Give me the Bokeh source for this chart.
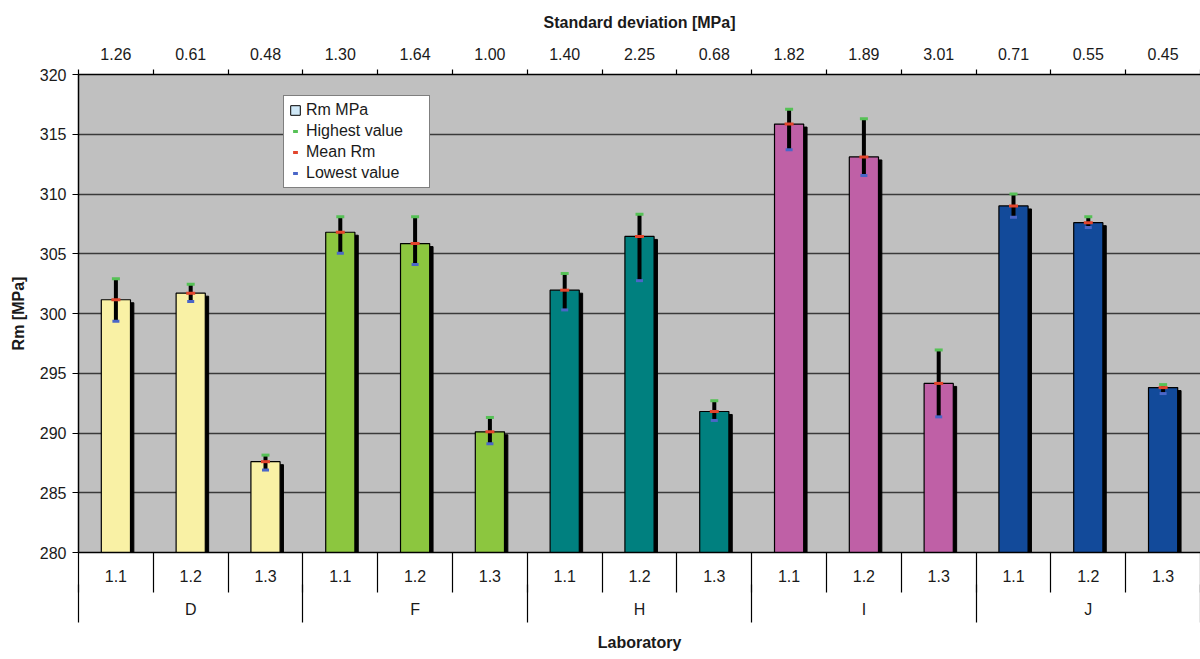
import numpy as np
from bokeh.plotting import figure
from bokeh.models import (Range1d, LinearAxis, FixedTicker, ColumnDataSource,
                          Legend, LegendItem)
from bokeh.embed import file_html
from bokeh.resources import INLINE

# ---------------- data ----------------
laboratories = ["D", "F", "H", "I", "J"]
samples = ["1.1", "1.2", "1.3"]
mean_rm = [301.15, 301.70, 287.60,
           306.80, 305.85, 290.10,
           301.95, 306.45, 291.80,
           315.85, 313.10, 294.15,
           309.00, 307.60, 293.80]
highest = [302.90, 302.45, 288.15,
           308.10, 308.10, 291.30,
           303.35, 308.30, 292.70,
           317.10, 316.30, 296.95,
           310.00, 308.10, 294.05]
lowest = [299.35, 301.00, 286.90,
          305.05, 304.10, 289.10,
          300.30, 302.75, 291.05,
          313.70, 311.55, 291.35,
          308.05, 307.20, 293.30]
std_dev = ["1.26", "0.61", "0.48", "1.30", "1.64", "1.00", "1.40", "2.25",
           "0.68", "1.82", "1.89", "3.01", "0.71", "0.55", "0.45"]
lab_colors = ["#F9F1A5", "#8CC63F", "#00807F", "#BF60A6", "#124A9A"]
y_ticks = [280, 285, 290, 295, 300, 305, 310, 315, 320]

# ---------------- derived ----------------
n_sub = len(samples)
n = len(laboratories) * n_sub
centers = [i + 0.5 for i in range(n)]
colors = [lab_colors[i // n_sub] for i in range(n)]
group_centers = [g * n_sub + n_sub / 2 for g in range(len(laboratories))]
group_bounds = [g * n_sub for g in range(len(laboratories) + 1)]

src = ColumnDataSource(dict(
    x=centers,
    xs=[c + 0.045 for c in centers],
    mean=mean_rm,
    shadow_top=[m - 0.25 for m in mean_rm],
    high=highest,
    low=lowest,
    color=colors,
))

FONT = "Liberation Sans"
TXT = "#1a1a1a"

p = figure(width=1200, height=659, x_range=Range1d(0, n), y_range=Range1d(280, 320),
           output_backend="svg", toolbar_location=None,
           x_axis_location=None, y_axis_location="left",
           min_border_left=78, min_border_right=0, min_border_top=74,
           min_border_bottom=107,
           background_fill_color="#C0C0C0", border_fill_color="white",
           outline_line_color=None)

# y axis
yax = p.yaxis[0]
yax.ticker = FixedTicker(ticks=y_ticks)
yax.major_tick_out = 6
yax.major_tick_in = 0
yax.minor_tick_line_color = None
yax.axis_line_color = "black"
yax.axis_line_width = 1.5
yax.major_label_standoff = 6
yax.major_label_text_font = FONT
yax.major_label_text_font_size = "16px"
yax.major_label_text_color = TXT
yax.axis_label = "Rm [MPa]"
yax.axis_label_text_font = FONT
yax.axis_label_text_font_style = "bold"
yax.axis_label_text_font_size = "16px"
yax.axis_label_text_color = TXT
yax.axis_label_standoff = 10

p.ygrid.grid_line_color = "#3a3a3a"
p.ygrid.grid_line_width = 1.5
p.xgrid.visible = False


def style_axis(ax):
    ax.major_label_text_font = FONT
    ax.major_label_text_font_size = "16px"
    ax.major_label_text_color = TXT
    ax.axis_label_text_font = FONT
    ax.axis_label_text_font_style = "bold"
    ax.axis_label_text_font_size = "16px"
    ax.axis_label_text_color = TXT
    ax.major_tick_out = 0
    ax.major_tick_in = 0
    ax.major_tick_line_color = None
    ax.minor_tick_out = 0
    ax.minor_tick_line_color = "black"
    ax.minor_tick_line_width = 1.2


# top axis: standard deviations
top_ax = LinearAxis(
    ticker=FixedTicker(ticks=centers, minor_ticks=list(range(n + 1))),
    major_label_overrides={c: s for c, s in zip(centers, std_dev)},
    axis_label="Standard deviation [MPa]",
)
style_axis(top_ax)
top_ax.minor_tick_in = -5
top_ax.major_label_standoff = 15
top_ax.axis_label_standoff = 14
top_ax.axis_line_color = "black"
top_ax.axis_line_width = 1.5
p.add_layout(top_ax, "above")

# bottom axis A: sample labels
sub_labels = [samples[i % n_sub] for i in range(n)]
bot_a = LinearAxis(
    ticker=FixedTicker(ticks=centers, minor_ticks=list(range(n + 1))),
    major_label_overrides={c: s for c, s in zip(centers, sub_labels)},
)
style_axis(bot_a)
bot_a.minor_tick_in = -40
bot_a.major_label_standoff = 17
bot_a.axis_line_color = "black"
bot_a.axis_line_width = 1.5
p.add_layout(bot_a, "below")

# bottom axis B: laboratory labels
bot_b = LinearAxis(
    ticker=FixedTicker(ticks=group_centers, minor_ticks=group_bounds),
    major_label_overrides={c: s for c, s in zip(group_centers, laboratories)},
    axis_label="Laboratory",
)
style_axis(bot_b)
bot_b.minor_tick_in = -38
bot_b.major_label_standoff = 16
bot_b.axis_line_color = None
bot_b.axis_label_standoff = 13
p.add_layout(bot_b, "below")

# bars with shadow
p.vbar(x="xs", top="shadow_top", bottom=280, width=0.39, source=src,
       fill_color="black", line_color="black")
p.vbar(x="x", top="mean", bottom=280, width=0.39, source=src,
       fill_color="color", line_color="black", line_width=1.2)

# range bars and markers
p.segment(x0="x", y0="low", x1="x", y1="high", source=src,
          line_color="black", line_width=4)
GREEN, RED, BLUE = "#56C156", "#E2452C", "#4A66C8"
r_hi = p.scatter(x="x", y="high", source=src, marker="dash", size=8,
                 line_color=GREEN, line_width=3)
r_lo = p.scatter(x="x", y="low", source=src, marker="dash", size=7,
                 line_color=BLUE, line_width=3)
r_mean = p.scatter(x="x", y="mean", source=src, marker="dash", size=9,
                   line_color=RED, line_width=3)

# legend proxy for the bar entry (no visible mark)
r_bar = p.vbar(x=[float("nan")], top=[float("nan")], width=0.4,
               fill_color="#CFE8F7", line_color="black", line_width=1)

legend = Legend(items=[
    LegendItem(label="Rm MPa", renderers=[r_bar]),
    LegendItem(label="Highest value", renderers=[r_hi]),
    LegendItem(label="Mean Rm", renderers=[r_mean]),
    LegendItem(label="Lowest value", renderers=[r_lo]),
], location=(205, 364))
legend.background_fill_color = "white"
legend.background_fill_alpha = 1
legend.border_line_color = "black"
legend.border_line_width = 1
legend.label_text_font = FONT
legend.label_text_font_size = "16px"
legend.label_text_color = TXT
legend.glyph_width = 12
legend.glyph_height = 12
legend.label_height = 18
legend.label_width = 118
legend.spacing = 3
legend.padding = 5
legend.margin = 0
legend.label_standoff = 5
p.add_layout(legend)

open("out.html", "w").write(file_html(p, INLINE))
